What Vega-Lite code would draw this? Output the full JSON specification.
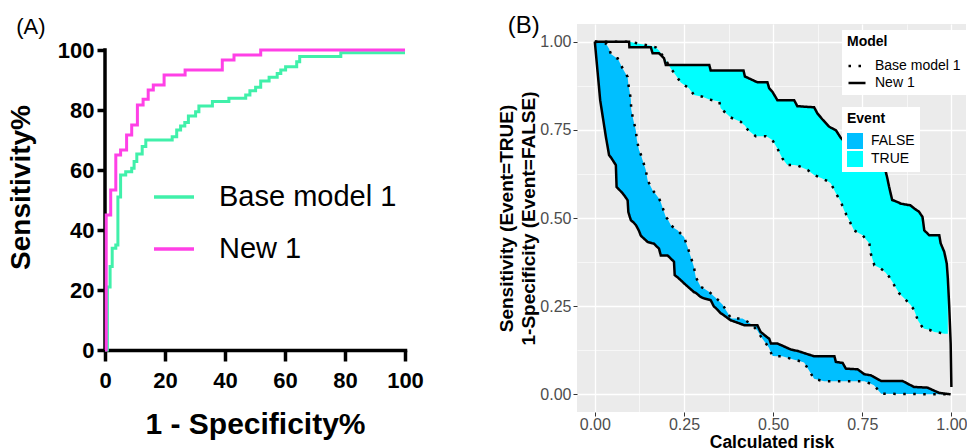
{
  "$schema": "https://vega.github.io/schema/vega-lite/v6.json",
  "padding": {"left": 7, "top": 14, "right": 0, "bottom": 0},
  "spacing": 73,
  "config": {
    "font": "Liberation Sans",
    "view": {"stroke": null},
    "title": {"font": "Liberation Sans", "fontWeight": "normal", "color": "black"}
  },
  "resolve": {"scale": {"x": "independent", "y": "independent"}},
  "datasets": {
    "rocA": [
      {"model": "Base model 1", "fpr": 0, "tpr": 0},
      {"model": "Base model 1", "fpr": 0.8, "tpr": 21},
      {"model": "Base model 1", "fpr": 1.7, "tpr": 27.8},
      {"model": "Base model 1", "fpr": 2.4, "tpr": 33.9},
      {"model": "Base model 1", "fpr": 3.6, "tpr": 35},
      {"model": "Base model 1", "fpr": 4.3, "tpr": 51},
      {"model": "Base model 1", "fpr": 5.2, "tpr": 58.3},
      {"model": "Base model 1", "fpr": 6.9, "tpr": 59.4},
      {"model": "Base model 1", "fpr": 8.9, "tpr": 60.6},
      {"model": "Base model 1", "fpr": 9.7, "tpr": 62.8},
      {"model": "Base model 1", "fpr": 10.6, "tpr": 65.3},
      {"model": "Base model 1", "fpr": 12.4, "tpr": 67.8},
      {"model": "Base model 1", "fpr": 13.6, "tpr": 70},
      {"model": "Base model 1", "fpr": 22.4, "tpr": 71.1},
      {"model": "Base model 1", "fpr": 23.9, "tpr": 73.3},
      {"model": "Base model 1", "fpr": 25.2, "tpr": 74.7},
      {"model": "Base model 1", "fpr": 26.6, "tpr": 75.8},
      {"model": "Base model 1", "fpr": 27.8, "tpr": 78},
      {"model": "Base model 1", "fpr": 30.2, "tpr": 79.4},
      {"model": "Base model 1", "fpr": 31.3, "tpr": 81.3},
      {"model": "Base model 1", "fpr": 35.8, "tpr": 82.8},
      {"model": "Base model 1", "fpr": 41.3, "tpr": 83.9},
      {"model": "Base model 1", "fpr": 46.9, "tpr": 85},
      {"model": "Base model 1", "fpr": 48.3, "tpr": 86.4},
      {"model": "Base model 1", "fpr": 50.2, "tpr": 87.6},
      {"model": "Base model 1", "fpr": 51.9, "tpr": 89.7},
      {"model": "Base model 1", "fpr": 54.7, "tpr": 90.9},
      {"model": "Base model 1", "fpr": 57.4, "tpr": 92.2},
      {"model": "Base model 1", "fpr": 58.6, "tpr": 93.3},
      {"model": "Base model 1", "fpr": 60.2, "tpr": 94.4},
      {"model": "Base model 1", "fpr": 63.9, "tpr": 96.1},
      {"model": "Base model 1", "fpr": 64.9, "tpr": 97.8},
      {"model": "Base model 1", "fpr": 78.6, "tpr": 99.1},
      {"model": "Base model 1", "fpr": 100, "tpr": 99.1},
      {"model": "New 1", "fpr": 0, "tpr": 0},
      {"model": "New 1", "fpr": 0.4, "tpr": 45},
      {"model": "New 1", "fpr": 1.9, "tpr": 53.3},
      {"model": "New 1", "fpr": 3.6, "tpr": 65},
      {"model": "New 1", "fpr": 5.2, "tpr": 66.7},
      {"model": "New 1", "fpr": 7.2, "tpr": 71.7},
      {"model": "New 1", "fpr": 8.9, "tpr": 75},
      {"model": "New 1", "fpr": 10.8, "tpr": 81.7},
      {"model": "New 1", "fpr": 12.7, "tpr": 83.6},
      {"model": "New 1", "fpr": 14.4, "tpr": 86.7},
      {"model": "New 1", "fpr": 16.1, "tpr": 88.3},
      {"model": "New 1", "fpr": 19.7, "tpr": 91.7},
      {"model": "New 1", "fpr": 26.7, "tpr": 93.3},
      {"model": "New 1", "fpr": 39.1, "tpr": 96.7},
      {"model": "New 1", "fpr": 43, "tpr": 98.3},
      {"model": "New 1", "fpr": 51.9, "tpr": 100},
      {"model": "New 1", "fpr": 100, "tpr": 100}
    ],
    "rocB": [
      {"event": "TRUE", "risk": 0, "Base model 1": 1, "New 1": 1},
      {"event": "TRUE", "risk": 0.096, "Base model 1": 1, "New 1": 1},
      {"event": "TRUE", "risk": 0.097, "Base model 1": 1, "New 1": 0.984},
      {"event": "TRUE", "risk": 0.12, "Base model 1": 0.995, "New 1": 0.984},
      {"event": "TRUE", "risk": 0.157, "Base model 1": 0.988, "New 1": 0.984},
      {"event": "TRUE", "risk": 0.162, "Base model 1": 0.986, "New 1": 0.967},
      {"event": "TRUE", "risk": 0.171, "Base model 1": 0.984, "New 1": 0.967},
      {"event": "TRUE", "risk": 0.18, "Base model 1": 0.975, "New 1": 0.967},
      {"event": "TRUE", "risk": 0.194, "Base model 1": 0.955, "New 1": 0.953},
      {"event": "TRUE", "risk": 0.199, "Base model 1": 0.948, "New 1": 0.934},
      {"event": "TRUE", "risk": 0.213, "Base model 1": 0.924, "New 1": 0.934},
      {"event": "TRUE", "risk": 0.227, "Base model 1": 0.905, "New 1": 0.934},
      {"event": "TRUE", "risk": 0.241, "Base model 1": 0.884, "New 1": 0.934},
      {"event": "TRUE", "risk": 0.264, "Base model 1": 0.868, "New 1": 0.934},
      {"event": "TRUE", "risk": 0.278, "Base model 1": 0.849, "New 1": 0.934},
      {"event": "TRUE", "risk": 0.302, "Base model 1": 0.844, "New 1": 0.934},
      {"event": "TRUE", "risk": 0.321, "Base model 1": 0.836, "New 1": 0.934},
      {"event": "TRUE", "risk": 0.325, "Base model 1": 0.835, "New 1": 0.918},
      {"event": "TRUE", "risk": 0.349, "Base model 1": 0.83, "New 1": 0.918},
      {"event": "TRUE", "risk": 0.353, "Base model 1": 0.811, "New 1": 0.918},
      {"event": "TRUE", "risk": 0.381, "Base model 1": 0.785, "New 1": 0.918},
      {"event": "TRUE", "risk": 0.409, "Base model 1": 0.773, "New 1": 0.918},
      {"event": "TRUE", "risk": 0.417, "Base model 1": 0.765, "New 1": 0.918},
      {"event": "TRUE", "risk": 0.421, "Base model 1": 0.762, "New 1": 0.901},
      {"event": "TRUE", "risk": 0.428, "Base model 1": 0.751, "New 1": 0.898},
      {"event": "TRUE", "risk": 0.451, "Base model 1": 0.732, "New 1": 0.887},
      {"event": "TRUE", "risk": 0.456, "Base model 1": 0.732, "New 1": 0.885},
      {"event": "TRUE", "risk": 0.479, "Base model 1": 0.732, "New 1": 0.885},
      {"event": "TRUE", "risk": 0.484, "Base model 1": 0.73, "New 1": 0.885},
      {"event": "TRUE", "risk": 0.489, "Base model 1": 0.727, "New 1": 0.868},
      {"event": "TRUE", "risk": 0.498, "Base model 1": 0.721, "New 1": 0.858},
      {"event": "TRUE", "risk": 0.512, "Base model 1": 0.697, "New 1": 0.834},
      {"event": "TRUE", "risk": 0.526, "Base model 1": 0.669, "New 1": 0.834},
      {"event": "TRUE", "risk": 0.54, "Base model 1": 0.65, "New 1": 0.834},
      {"event": "TRUE", "risk": 0.559, "Base model 1": 0.65, "New 1": 0.834},
      {"event": "TRUE", "risk": 0.568, "Base model 1": 0.649, "New 1": 0.817},
      {"event": "TRUE", "risk": 0.597, "Base model 1": 0.636, "New 1": 0.815},
      {"event": "TRUE", "risk": 0.615, "Base model 1": 0.622, "New 1": 0.814},
      {"event": "TRUE", "risk": 0.624, "Base model 1": 0.618, "New 1": 0.797},
      {"event": "TRUE", "risk": 0.638, "Base model 1": 0.612, "New 1": 0.78},
      {"event": "TRUE", "risk": 0.657, "Base model 1": 0.602, "New 1": 0.759},
      {"event": "TRUE", "risk": 0.662, "Base model 1": 0.598, "New 1": 0.756},
      {"event": "TRUE", "risk": 0.676, "Base model 1": 0.57, "New 1": 0.749},
      {"event": "TRUE", "risk": 0.69, "Base model 1": 0.546, "New 1": 0.727},
      {"event": "TRUE", "risk": 0.699, "Base model 1": 0.522, "New 1": 0.718},
      {"event": "TRUE", "risk": 0.713, "Base model 1": 0.494, "New 1": 0.71},
      {"event": "TRUE", "risk": 0.727, "Base model 1": 0.465, "New 1": 0.7},
      {"event": "TRUE", "risk": 0.751, "Base model 1": 0.451, "New 1": 0.685},
      {"event": "TRUE", "risk": 0.77, "Base model 1": 0.428, "New 1": 0.672},
      {"event": "TRUE", "risk": 0.774, "Base model 1": 0.399, "New 1": 0.67},
      {"event": "TRUE", "risk": 0.784, "Base model 1": 0.366, "New 1": 0.663},
      {"event": "TRUE", "risk": 0.802, "Base model 1": 0.357, "New 1": 0.65},
      {"event": "TRUE", "risk": 0.816, "Base model 1": 0.345, "New 1": 0.631},
      {"event": "TRUE", "risk": 0.821, "Base model 1": 0.338, "New 1": 0.61},
      {"event": "TRUE", "risk": 0.825, "Base model 1": 0.334, "New 1": 0.59},
      {"event": "TRUE", "risk": 0.834, "Base model 1": 0.32, "New 1": 0.551},
      {"event": "TRUE", "risk": 0.84, "Base model 1": 0.309, "New 1": 0.549},
      {"event": "TRUE", "risk": 0.854, "Base model 1": 0.286, "New 1": 0.543},
      {"event": "TRUE", "risk": 0.857, "Base model 1": 0.283, "New 1": 0.541},
      {"event": "TRUE", "risk": 0.878, "Base model 1": 0.262, "New 1": 0.537},
      {"event": "TRUE", "risk": 0.885, "Base model 1": 0.255, "New 1": 0.536},
      {"event": "TRUE", "risk": 0.896, "Base model 1": 0.238, "New 1": 0.527},
      {"event": "TRUE", "risk": 0.906, "Base model 1": 0.21, "New 1": 0.52},
      {"event": "TRUE", "risk": 0.909, "Base model 1": 0.205, "New 1": 0.518},
      {"event": "TRUE", "risk": 0.919, "Base model 1": 0.19, "New 1": 0.503},
      {"event": "TRUE", "risk": 0.924, "Base model 1": 0.186, "New 1": 0.465},
      {"event": "TRUE", "risk": 0.938, "Base model 1": 0.183, "New 1": 0.451},
      {"event": "TRUE", "risk": 0.952, "Base model 1": 0.177, "New 1": 0.451},
      {"event": "TRUE", "risk": 0.966, "Base model 1": 0.175, "New 1": 0.451},
      {"event": "TRUE", "risk": 0.97, "Base model 1": 0.174, "New 1": 0.428},
      {"event": "TRUE", "risk": 0.98, "Base model 1": 0.172, "New 1": 0.404},
      {"event": "TRUE", "risk": 0.987, "Base model 1": 0.172, "New 1": 0.371},
      {"event": "TRUE", "risk": 0.99, "Base model 1": 0.172, "New 1": 0.33},
      {"event": "TRUE", "risk": 0.994, "Base model 1": null, "New 1": 0.248},
      {"event": "TRUE", "risk": 0.998, "Base model 1": null, "New 1": 0.144},
      {"event": "TRUE", "risk": 1.0, "Base model 1": null, "New 1": 0.021},
      {"event": "FALSE", "risk": 0, "Base model 1": 1, "New 1": 1},
      {"event": "FALSE", "risk": 0.015, "Base model 1": 0.998, "New 1": 0.834},
      {"event": "FALSE", "risk": 0.031, "Base model 1": 0.995, "New 1": 0.73},
      {"event": "FALSE", "risk": 0.04, "Base model 1": 0.98, "New 1": 0.678},
      {"event": "FALSE", "risk": 0.045, "Base model 1": 0.965, "New 1": 0.672},
      {"event": "FALSE", "risk": 0.059, "Base model 1": 0.955, "New 1": 0.65},
      {"event": "FALSE", "risk": 0.061, "Base model 1": 0.953, "New 1": 0.588},
      {"event": "FALSE", "risk": 0.064, "Base model 1": 0.953, "New 1": 0.585},
      {"event": "FALSE", "risk": 0.078, "Base model 1": 0.924, "New 1": 0.57},
      {"event": "FALSE", "risk": 0.089, "Base model 1": 0.905, "New 1": 0.555},
      {"event": "FALSE", "risk": 0.092, "Base model 1": 0.9, "New 1": 0.55},
      {"event": "FALSE", "risk": 0.094, "Base model 1": 0.88, "New 1": 0.517},
      {"event": "FALSE", "risk": 0.096, "Base model 1": 0.868, "New 1": 0.51},
      {"event": "FALSE", "risk": 0.101, "Base model 1": 0.836, "New 1": 0.494},
      {"event": "FALSE", "risk": 0.102, "Base model 1": 0.808, "New 1": 0.493},
      {"event": "FALSE", "risk": 0.108, "Base model 1": 0.778, "New 1": 0.488},
      {"event": "FALSE", "risk": 0.115, "Base model 1": 0.749, "New 1": 0.48},
      {"event": "FALSE", "risk": 0.118, "Base model 1": 0.721, "New 1": 0.475},
      {"event": "FALSE", "risk": 0.124, "Base model 1": 0.693, "New 1": 0.463},
      {"event": "FALSE", "risk": 0.129, "Base model 1": 0.68, "New 1": 0.45},
      {"event": "FALSE", "risk": 0.134, "Base model 1": 0.664, "New 1": 0.445},
      {"event": "FALSE", "risk": 0.143, "Base model 1": 0.636, "New 1": 0.437},
      {"event": "FALSE", "risk": 0.148, "Base model 1": 0.607, "New 1": 0.432},
      {"event": "FALSE", "risk": 0.162, "Base model 1": 0.579, "New 1": 0.428},
      {"event": "FALSE", "risk": 0.166, "Base model 1": 0.574, "New 1": 0.427},
      {"event": "FALSE", "risk": 0.18, "Base model 1": 0.555, "New 1": 0.413},
      {"event": "FALSE", "risk": 0.185, "Base model 1": 0.545, "New 1": 0.394},
      {"event": "FALSE", "risk": 0.199, "Base model 1": 0.503, "New 1": 0.394},
      {"event": "FALSE", "risk": 0.204, "Base model 1": 0.497, "New 1": 0.394},
      {"event": "FALSE", "risk": 0.213, "Base model 1": 0.48, "New 1": 0.385},
      {"event": "FALSE", "risk": 0.222, "Base model 1": 0.472, "New 1": 0.376},
      {"event": "FALSE", "risk": 0.224, "Base model 1": 0.47, "New 1": 0.338},
      {"event": "FALSE", "risk": 0.232, "Base model 1": 0.465, "New 1": 0.332},
      {"event": "FALSE", "risk": 0.246, "Base model 1": 0.45, "New 1": 0.319},
      {"event": "FALSE", "risk": 0.25, "Base model 1": 0.447, "New 1": 0.315},
      {"event": "FALSE", "risk": 0.26, "Base model 1": 0.418, "New 1": 0.306},
      {"event": "FALSE", "risk": 0.269, "Base model 1": 0.39, "New 1": 0.298},
      {"event": "FALSE", "risk": 0.278, "Base model 1": 0.361, "New 1": 0.29},
      {"event": "FALSE", "risk": 0.283, "Base model 1": 0.333, "New 1": 0.288},
      {"event": "FALSE", "risk": 0.297, "Base model 1": 0.305, "New 1": 0.276},
      {"event": "FALSE", "risk": 0.306, "Base model 1": 0.3, "New 1": 0.272},
      {"event": "FALSE", "risk": 0.318, "Base model 1": 0.292, "New 1": 0.269},
      {"event": "FALSE", "risk": 0.325, "Base model 1": 0.287, "New 1": 0.267},
      {"event": "FALSE", "risk": 0.334, "Base model 1": 0.278, "New 1": 0.249},
      {"event": "FALSE", "risk": 0.339, "Base model 1": 0.274, "New 1": 0.245},
      {"event": "FALSE", "risk": 0.353, "Base model 1": 0.26, "New 1": 0.23},
      {"event": "FALSE", "risk": 0.358, "Base model 1": 0.255, "New 1": 0.227},
      {"event": "FALSE", "risk": 0.381, "Base model 1": 0.217, "New 1": 0.21},
      {"event": "FALSE", "risk": 0.384, "Base model 1": 0.215, "New 1": 0.209},
      {"event": "FALSE", "risk": 0.414, "Base model 1": 0.215, "New 1": 0.198},
      {"event": "FALSE", "risk": 0.419, "Base model 1": 0.212, "New 1": 0.196},
      {"event": "FALSE", "risk": 0.437, "Base model 1": 0.2, "New 1": 0.196},
      {"event": "FALSE", "risk": 0.453, "Base model 1": 0.184, "New 1": 0.196},
      {"event": "FALSE", "risk": 0.456, "Base model 1": 0.181, "New 1": 0.196},
      {"event": "FALSE", "risk": 0.465, "Base model 1": 0.165, "New 1": 0.177},
      {"event": "FALSE", "risk": 0.47, "Base model 1": 0.158, "New 1": 0.173},
      {"event": "FALSE", "risk": 0.487, "Base model 1": 0.134, "New 1": 0.159},
      {"event": "FALSE", "risk": 0.489, "Base model 1": 0.131, "New 1": 0.158},
      {"event": "FALSE", "risk": 0.494, "Base model 1": 0.118, "New 1": 0.144},
      {"event": "FALSE", "risk": 0.499, "Base model 1": 0.109, "New 1": 0.144},
      {"event": "FALSE", "risk": 0.512, "Base model 1": 0.108, "New 1": 0.144},
      {"event": "FALSE", "risk": 0.526, "Base model 1": 0.108, "New 1": 0.138},
      {"event": "FALSE", "risk": 0.55, "Base model 1": 0.101, "New 1": 0.127},
      {"event": "FALSE", "risk": 0.559, "Base model 1": 0.098, "New 1": 0.125},
      {"event": "FALSE", "risk": 0.569, "Base model 1": 0.096, "New 1": 0.123},
      {"event": "FALSE", "risk": 0.587, "Base model 1": 0.09, "New 1": 0.117},
      {"event": "FALSE", "risk": 0.615, "Base model 1": 0.044, "New 1": 0.108},
      {"event": "FALSE", "risk": 0.643, "Base model 1": 0.037, "New 1": 0.108},
      {"event": "FALSE", "risk": 0.672, "Base model 1": 0.037, "New 1": 0.108},
      {"event": "FALSE", "risk": 0.676, "Base model 1": 0.037, "New 1": 0.092},
      {"event": "FALSE", "risk": 0.695, "Base model 1": 0.037, "New 1": 0.089},
      {"event": "FALSE", "risk": 0.704, "Base model 1": 0.037, "New 1": 0.073},
      {"event": "FALSE", "risk": 0.737, "Base model 1": 0.037, "New 1": 0.071},
      {"event": "FALSE", "risk": 0.756, "Base model 1": 0.037, "New 1": 0.057},
      {"event": "FALSE", "risk": 0.774, "Base model 1": 0.03, "New 1": 0.054},
      {"event": "FALSE", "risk": 0.783, "Base model 1": 0.026, "New 1": 0.049},
      {"event": "FALSE", "risk": 0.803, "Base model 1": 0.002, "New 1": 0.038},
      {"event": "FALSE", "risk": 0.863, "Base model 1": 0.001, "New 1": 0.038},
      {"event": "FALSE", "risk": 0.895, "Base model 1": 0.001, "New 1": 0.021},
      {"event": "FALSE", "risk": 0.933, "Base model 1": 0, "New 1": 0.019},
      {"event": "FALSE", "risk": 0.966, "Base model 1": 0, "New 1": 0.004},
      {"event": "FALSE", "risk": 0.998, "Base model 1": 0, "New 1": 0}
    ]
  },
  "hconcat": [
    {
      "width": 300,
      "height": 326,
      "title": {"text": "(A)", "anchor": "start", "frame": "bounds", "fontSize": 22, "offset": -15, "dx": 9},
      "view": {"stroke": null},
      "layer": [
        {
          "data": {"values": [{}]},
          "mark": {"type": "rule", "color": "black", "strokeWidth": 3.5, "strokeCap": "square"},
          "encoding": {
            "x": {"datum": 0, "type": "quantitative"},
            "y": {"datum": 0, "type": "quantitative"},
            "y2": {"datum": 100}
          }
        },
        {
          "data": {"name": "rocA"},
          "mark": {"type": "line", "interpolate": "step-after", "strokeWidth": 3, "clip": false},
          "encoding": {
            "x": {
              "field": "fpr", "type": "quantitative",
              "scale": {"domain": [0, 100], "nice": false, "zero": false},
              "axis": {
                "values": [0, 20, 40, 60, 80, 100], "grid": false,
                "domainColor": "black", "domainWidth": 3.5, "domainCap": "square",
                "tickColor": "black", "tickWidth": 3.5, "tickSize": 11,
                "labelFont": "Liberation Sans", "labelFontWeight": "bold", "labelFontSize": 22, "labelColor": "black",
                "labelPadding": 9, "labelFlush": false, "labelOverlap": false,
                "title": "1 - Specificity%", "titleFont": "Liberation Sans", "titleFontSize": 30, "titleFontWeight": "bold",
                "titleColor": "black", "titlePadding": 18
              }
            },
            "y": {
              "field": "tpr", "type": "quantitative",
              "scale": {"domain": [0, 108.667], "nice": false, "zero": false},
              "axis": {
                "values": [0, 20, 40, 60, 80, 100], "grid": false, "domain": false,
                "tickColor": "black", "tickWidth": 3.5, "tickSize": 8,
                "labelFont": "Liberation Sans", "labelFontWeight": "bold", "labelFontSize": 22, "labelColor": "black",
                "labelPadding": 3, "labelFlush": false, "labelOverlap": false,
                "title": "Sensitivity%", "titleFont": "Liberation Sans", "titleFontSize": 28, "titleFontWeight": "bold",
                "titleColor": "black", "titlePadding": 22
              }
            },
            "color": {
              "field": "model", "type": "nominal",
              "scale": {"domain": ["Base model 1", "New 1"], "range": ["#40F0AA", "#FF40E6"]},
              "legend": {
                "orient": "none", "legendX": 47, "legendY": 151, "title": null,
                "symbolType": "stroke", "symbolSize": 1600, "symbolStrokeWidth": 3.5,
                "labelFont": "Liberation Sans", "labelFontSize": 29, "labelColor": "black",
                "labelOffset": 23, "rowPadding": 15, "padding": 0, "labelLimit": 400
              }
            }
          }
        }
      ]
    },
    {
      "width": 389,
      "height": 388,
      "title": {"text": "(B)", "anchor": "start", "frame": "bounds", "fontSize": 24, "offset": -14, "dx": 10},
      "view": {"fill": "#EBEBEB", "stroke": null},
      "data": {"name": "rocB"},
      "resolve": {"legend": {"fill": "independent", "strokeDash": "independent"}},
      "encoding": {
        "x": {
          "field": "risk", "type": "quantitative",
          "scale": {"domain": [-0.05, 1.041], "nice": false, "zero": false},
          "axis": {
            "values": [0, 0.125, 0.25, 0.375, 0.5, 0.625, 0.75, 0.875, 1],
            "labelExpr": "(datum.value * 4) % 1 === 0 ? format(datum.value, '.2f') : ''",
            "domain": false, "grid": true, "gridColor": "white",
            "gridWidth": {"condition": {"test": "(datum.value * 4) % 1 === 0", "value": 1.3}, "value": 0.6},
            "tickColor": "#333333", "tickWidth": 1, "tickSize": 4,
            "tickOpacity": {"condition": {"test": "(datum.value * 4) % 1 === 0", "value": 1}, "value": 0},
            "labelFont": "Liberation Sans", "labelFontSize": 16, "labelColor": "#4D4D4D", "labelPadding": 0,
            "labelFlush": false, "labelOverlap": false,
            "title": "Calculated risk", "titleFont": "Liberation Sans", "titleFontSize": 17.5, "titleFontWeight": "bold",
            "titleColor": "black", "titlePadding": 1
          }
        },
        "y": {
          "type": "quantitative",
          "scale": {"domain": [-0.05, 1.05], "nice": false, "zero": false},
          "axis": {
            "values": [0, 0.125, 0.25, 0.375, 0.5, 0.625, 0.75, 0.875, 1],
            "labelExpr": "(datum.value * 4) % 1 === 0 ? format(datum.value, '.2f') : ''",
            "domain": false, "grid": true, "gridColor": "white",
            "gridWidth": {"condition": {"test": "(datum.value * 4) % 1 === 0", "value": 1.3}, "value": 0.6},
            "tickColor": "#333333", "tickWidth": 1, "tickSize": 4,
            "tickOpacity": {"condition": {"test": "(datum.value * 4) % 1 === 0", "value": 1}, "value": 0},
            "labelFont": "Liberation Sans", "labelFontSize": 16, "labelColor": "#4D4D4D", "labelPadding": 2,
            "labelFlush": false, "labelOverlap": false,
            "title": ["Sensitivity (Event=TRUE)", "1-Specificity (Event=FALSE)"],
            "titleFont": "Liberation Sans", "titleFontSize": 19, "titleFontWeight": "bold",
            "titleColor": "black", "titlePadding": 1, "titleLineHeight": 22
          }
        }
      },
      "layer": [
        {
          "transform": [{"filter": {"field": "Base model 1", "valid": true}}],
          "mark": {"type": "area", "opacity": 1},
          "encoding": {
            "y": {"field": "Base model 1", "type": "quantitative"},
            "y2": {"field": "New 1"},
            "fill": {
              "field": "event", "type": "nominal",
              "scale": {"domain": ["FALSE", "TRUE"], "range": ["#00BFFF", "#00FFFF"]},
              "legend": {
                "orient": "none", "legendX": 265, "legendY": 83, "title": "Event",
                "titleFont": "Liberation Sans", "titleFontSize": 14, "titleFontWeight": "bold", "titleColor": "black",
                "titlePadding": 7,
                "symbolType": "square", "symbolSize": 256, "symbolStrokeWidth": 0, "symbolOpacity": 1,
                "labelFont": "Liberation Sans", "labelFontSize": 14, "labelColor": "black", "labelOffset": 8,
                "rowPadding": 2, "padding": 5, "fillColor": "white"
              }
            }
          }
        },
        {
          "transform": [{"fold": ["Base model 1", "New 1"], "as": ["model", "value"]}],
          "mark": {"type": "line", "color": "black", "strokeWidth": 2.5, "strokeCap": "butt"},
          "encoding": {
            "y": {"field": "value", "type": "quantitative"},
            "detail": {"field": "event"},
            "strokeDash": {
              "field": "model", "type": "nominal",
              "scale": {"domain": ["Base model 1", "New 1"], "range": [[2.5, 7.5], [1, 0]]},
              "legend": {
                "orient": "none", "legendX": 265, "legendY": 6, "title": "Model",
                "titleFont": "Liberation Sans", "titleFontSize": 14, "titleFontWeight": "bold", "titleColor": "black",
                "titlePadding": 7,
                "symbolType": "stroke", "symbolSize": 289, "symbolStrokeWidth": 2.5, "symbolStrokeColor": "black",
                "labelFont": "Liberation Sans", "labelFontSize": 14, "labelColor": "black", "labelOffset": 8,
                "rowPadding": 0, "padding": 5, "fillColor": "white"
              }
            }
          }
        }
      ]
    }
  ]
}
